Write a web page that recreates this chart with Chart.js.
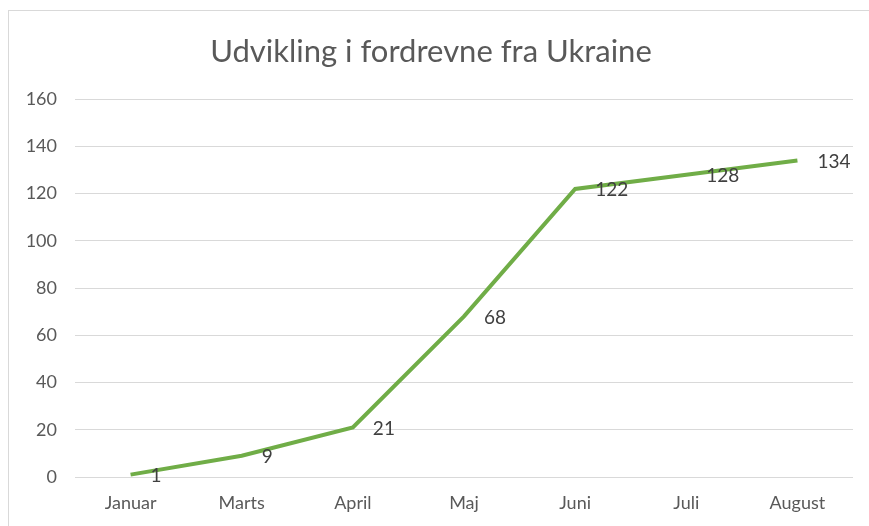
<!DOCTYPE html>
<html>
<head>
<meta charset="utf-8">
<script src="https://cdn.jsdelivr.net/npm/chart.js@4"></script>
<style>
  html, body { margin: 0; padding: 0; background: #fff; }
  #box {
    position: absolute; left: 8px; top: 10px; width: 861px; height: 516px;
    border-left: 1px solid #d9d9d9; border-top: 1px solid #d9d9d9;
  }
</style>
</head>
<body>
<div id="box"><canvas id="chart" width="860" height="515"></canvas></div>
<script>
const months = ['Januar', 'Marts', 'April', 'Maj', 'Juni', 'Juli', 'August'];
const displaced = [1, 9, 21, 68, 122, 128, 134];
const yMax = 160;
const yStep = 20;

// labels next to each point, like Excel data labels placed right
const pointLabels = {
    id: 'pointLabels',
    afterDatasetsDraw(chart) {
        const ctx = chart.ctx;
        const meta = chart.getDatasetMeta(0);
        ctx.save();
        ctx.font = '19px Lato, sans-serif';
        ctx.fillStyle = '#404040';
        ctx.textAlign = 'left';
        ctx.textBaseline = 'middle';
        meta.data.forEach((pt, i) => {
            ctx.fillText(String(displaced[i]), pt.x + 20, pt.y + 1);
        });
        ctx.restore();
    }
};

new Chart(document.getElementById('chart'), {
    type: 'line',
    data: {
        labels: months,
        datasets: [{
            data: displaced,
            borderColor: '#70AD47',
            borderWidth: 4,
            pointRadius: 0,
            tension: 0,
            fill: false
        }]
    },
    options: {
        responsive: false,
        animation: false,
        layout: { padding: { left: 0, right: 16, top: 0, bottom: 12 } },
        plugins: {
            legend: { display: false },
            tooltip: { enabled: false },
            title: {
                display: true,
                text: 'Udvikling i fordrevne fra Ukraine',
                color: '#595959',
                font: { family: 'Lato, sans-serif', size: 31, weight: 'normal' },
                padding: { top: 22, bottom: 29 }
            }
        },
        scales: {
            x: {
                offset: true,
                afterFit: (scale) => { scale.height = 37; },
                grid: { display: false, drawTicks: false },
                border: { display: false },
                ticks: {
                    color: '#595959',
                    font: { family: 'Lato, sans-serif', size: 18 },
                    padding: 15,
                    maxRotation: 0
                }
            },
            y: {
                min: 0,
                max: yMax,
                afterFit: (scale) => { scale.width = 66; },
                grid: { color: '#d9d9d9', lineWidth: 1, drawTicks: false },
                border: { display: false },
                ticks: {
                    stepSize: yStep,
                    color: '#595959',
                    font: { family: 'Lato, sans-serif', size: 18 },
                    padding: 18
                }
            }
        }
    },
    plugins: [pointLabels]
});
</script>
</body>
</html>
